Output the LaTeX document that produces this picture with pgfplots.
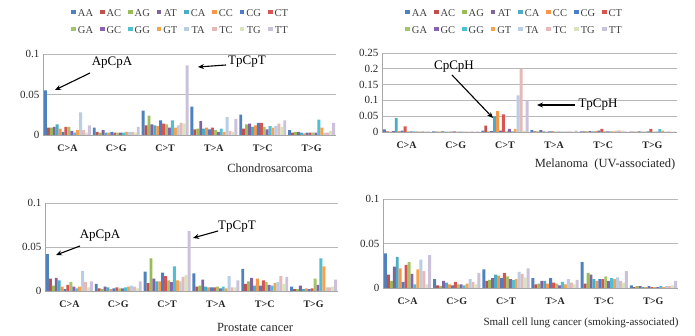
\documentclass[border=0pt]{standalone}
\usepackage{pgfplots}
\pgfplotsset{compat=1.18}
\usepackage{pgfplotstable}
\usepackage{fontspec}
\setmainfont{Liberation Serif}
\usetikzlibrary{arrows.meta}

\definecolor{cAA}{HTML}{4F81BD}
\definecolor{cAC}{HTML}{C0504D}
\definecolor{cAG}{HTML}{9BBB59}
\definecolor{cAT}{HTML}{8064A2}
\definecolor{cCA}{HTML}{4BACC6}
\definecolor{cCC}{HTML}{F79646}
\definecolor{cCG}{HTML}{4A7EC8}
\definecolor{cCT}{HTML}{D9534F}
\definecolor{cGA}{HTML}{A5C46A}
\definecolor{cGC}{HTML}{8A62B0}
\definecolor{cGG}{HTML}{4FBFD2}
\definecolor{cGT}{HTML}{F9A24E}
\definecolor{cTA}{HTML}{B9CDE5}
\definecolor{cTC}{HTML}{E6B9B8}
\definecolor{cTG}{HTML}{D7E4BD}
\definecolor{cTT}{HTML}{CCC1DA}

\pgfplotstableread{
g AA AC AG AT CA CC CG CT GA GC GG GT TA TC TG TT
0 0.055 0.009 0.009 0.010 0.013 0.008 0.004 0.010 0.010 0.005 0.003 0.006 0.028 0.006 0.003 0.012
1 0.009 0.004 0.003 0.006 0.003 0.003 0.004 0.003 0.003 0.003 0.003 0.004 0.004 0.004 0.003 0.010
2 0.030 0.012 0.024 0.013 0.012 0.011 0.018 0.014 0.013 0.009 0.018 0.009 0.012 0.015 0.014 0.086
3 0.035 0.007 0.008 0.017 0.008 0.009 0.007 0.009 0.006 0.004 0.008 0.004 0.022 0.005 0.004 0.020
4 0.025 0.008 0.013 0.014 0.010 0.012 0.015 0.015 0.010 0.007 0.011 0.009 0.011 0.014 0.010 0.018
5 0.006 0.003 0.004 0.004 0.003 0.002 0.003 0.003 0.003 0.003 0.019 0.009 0.003 0.003 0.005 0.015
}\chondro

\pgfplotstableread{
g AA AC AG AT CA CC CG CT GA GC GG GT TA TC TG TT
0 0.008 0.002 0.001 0.003 0.044 0.003 0.004 0.018 0.002 0.002 0.002 0.002 0.002 0.003 0.002 0.002
1 0.002 0.001 0.001 0.002 0.001 0.001 0.001 0.002 0.001 0.001 0.001 0.001 0.001 0.002 0.001 0.002
2 0.004 0.020 0.002 0.003 0.050 0.066 0.004 0.056 0.002 0.010 0.002 0.010 0.116 0.200 0.004 0.100
3 0.006 0.002 0.002 0.006 0.002 0.001 0.002 0.002 0.001 0.001 0.001 0.001 0.002 0.002 0.001 0.004
4 0.002 0.002 0.002 0.003 0.002 0.003 0.004 0.010 0.002 0.002 0.002 0.002 0.004 0.005 0.004 0.002
5 0.001 0.001 0.001 0.002 0.001 0.001 0.002 0.010 0.001 0.001 0.009 0.004 0.001 0.002 0.001 0.001
}\melanoma

\pgfplotstableread{
g AA AC AG AT CA CC CG CT GA GC GG GT TA TC TG TT
0 0.042 0.014 0.006 0.015 0.012 0.005 0.002 0.007 0.010 0.005 0.003 0.005 0.023 0.010 0.004 0.011
1 0.008 0.003 0.002 0.005 0.004 0.002 0.003 0.004 0.003 0.003 0.004 0.005 0.006 0.005 0.003 0.011
2 0.022 0.009 0.037 0.014 0.011 0.011 0.021 0.017 0.012 0.010 0.028 0.012 0.011 0.016 0.018 0.068
3 0.020 0.005 0.006 0.013 0.005 0.004 0.004 0.004 0.005 0.003 0.005 0.003 0.017 0.004 0.004 0.012
4 0.025 0.008 0.011 0.015 0.006 0.014 0.006 0.012 0.010 0.007 0.006 0.009 0.010 0.017 0.008 0.016
5 0.005 0.002 0.002 0.006 0.002 0.003 0.002 0.003 0.014 0.007 0.037 0.028 0.004 0.004 0.005 0.013
}\prostate

\pgfplotstableread{
g AA AC AG AT CA CC CG CT GA GC GG GT TA TC TG TT
0 0.039 0.015 0.008 0.024 0.035 0.022 0.007 0.026 0.029 0.016 0.004 0.021 0.032 0.019 0.004 0.037
1 0.010 0.003 0.002 0.008 0.006 0.004 0.003 0.007 0.004 0.004 0.003 0.005 0.010 0.007 0.004 0.017
2 0.021 0.008 0.009 0.011 0.015 0.014 0.011 0.017 0.013 0.010 0.009 0.010 0.018 0.016 0.012 0.022
3 0.011 0.004 0.005 0.008 0.008 0.005 0.011 0.006 0.005 0.003 0.007 0.004 0.010 0.006 0.004 0.009
4 0.029 0.005 0.017 0.015 0.010 0.008 0.010 0.010 0.013 0.008 0.011 0.010 0.012 0.008 0.006 0.019
5 0.003 0.001 0.002 0.002 0.001 0.001 0.002 0.001 0.001 0.001 0.002 0.001 0.002 0.002 0.003 0.008
}\sclc

\pgfplotsset{
  panel/.style={
    scale only axis, ybar=0pt, bar width=0.06,
    xmin=-0.5, xmax=5.5, ymin=0,
    axis x line*=bottom, axis y line*=left,
    axis line style={draw=black!35,-},
    xtick={0,1,2,3,4,5},
    xticklabels={C>A,C>G,C>T,T>A,T>C,T>G},
    xticklabel style={font=\fontsize{10}{11}\selectfont\bfseries, yshift=-6pt, text=black!85},
    major tick length=0pt,
    ymajorgrids, grid style={draw=black!28, line width=0.6pt},
    scaled y ticks=false,
    yticklabel style={/pgf/number format/fixed, /pgf/number format/precision=2,
      /pgf/number format/assume math mode=true, font=\fontsize{11}{12}\selectfont, text=black!85},
    every axis plot/.append style={draw=none},
    legend image code/.code={\fill[##1] (0pt,-0.5pt) rectangle (4.5pt,4pt);},
  },
  lgd/.style={legend columns=8,
    legend style={draw=none, fill=none, font=\fontsize{10.5}{11.5}\selectfont, text=black!75,
      row sep=4.5pt, /tikz/every even column/.append style={column sep=5pt},
      at={(#1)}, anchor=center},
  },
}

\begin{document}
\begin{tikzpicture}[x=1pt,y=1pt]
\path[use as bounding box] (0,0) rectangle (695,336);

% Chondrosarcoma
\begin{axis}[panel, at={(43pt,201pt)}, anchor=south west, width=293pt, height=81pt,
  ymax=0.1, ytick={0,0.05,0.1}, lgd={0.47,1.39}]
\pgfplotsinvokeforeach{AA,AC,AG,AT,CA,CC,CG,CT,GA,GC,GG,GT,TA,TC,TG,TT}{
  \addplot[fill=c#1] table[x=g, y=#1]{\chondro};
  \addlegendentry{#1}
}
\end{axis}

% Melanoma
\begin{axis}[panel, at={(382pt,204pt)}, anchor=south west, width=295pt, height=79pt,
  ymax=0.25, ytick={0,0.05,0.1,0.15,0.2,0.25}, lgd={0.45,1.39}]
\pgfplotsinvokeforeach{AA,AC,AG,AT,CA,CC,CG,CT,GA,GC,GG,GT,TA,TC,TG,TT}{
  \addplot[fill=c#1] table[x=g, y=#1]{\melanoma};
  \addlegendentry{#1}
}
\end{axis}

% Prostate
\begin{axis}[panel, at={(45pt,45pt)}, anchor=south west, width=293pt, height=88pt,
  ymax=0.1, ytick={0,0.05,0.1}]
\pgfplotsinvokeforeach{AA,AC,AG,AT,CA,CC,CG,CT,GA,GC,GG,GT,TA,TC,TG,TT}{
  \addplot[fill=c#1] table[x=g, y=#1]{\prostate};
}
\end{axis}

% Small cell lung cancer
\begin{axis}[panel, at={(383pt,48pt)}, anchor=south west, width=295pt, height=89pt,
  ymax=0.1, ytick={0,0.05,0.1}]
\pgfplotsinvokeforeach{AA,AC,AG,AT,CA,CC,CG,CT,GA,GC,GG,GT,TA,TC,TG,TT}{
  \addplot[fill=c#1] table[x=g, y=#1]{\sclc};
}
\end{axis}

% titles
\begin{scope}[every node/.style={font=\fontsize{12.5}{14}\selectfont, text=black!85}]
\node at (270,168) {Chondrosarcoma};
\node at (605,171) {Melanoma\ \ (UV-associated)};
\node at (255,9) {Prostate cancer};
\node[font=\fontsize{11}{13}\selectfont] at (581,13) {Small cell lung cancer (smoking-associated)};
\end{scope}

% annotations
\begin{scope}[every node/.style={font=\fontsize{13}{15}\selectfont}]
\node at (112,273) {ApCpA};
\draw[-{Stealth[length=6pt,width=5pt]}, line width=1.1pt] (90,263) -- (55,246);
\node at (247,274) {TpCpT};
\draw[-{Stealth[length=6pt,width=5pt]}, line width=1.1pt] (226,271) -- (198,269);

\node at (100,100) {ApCpA};
\draw[-{Stealth[length=6pt,width=5pt]}, line width=1.1pt] (80,90) -- (56,81);
\node at (237,109) {TpCpT};
\draw[-{Stealth[length=6pt,width=5pt]}, line width=1.1pt] (218,105) -- (193,98);

\node at (454,269) {CpCpH};
\draw[-{Stealth[length=6pt,width=5pt]}, line width=1.1pt] (452,261) -- (493,218);
\node at (598,231) {TpCpH};
\draw[-{Stealth[length=6pt,width=5pt]}, line width=1.1pt] (575,231) -- (537,231);
\end{scope}
\end{tikzpicture}
\end{document}
